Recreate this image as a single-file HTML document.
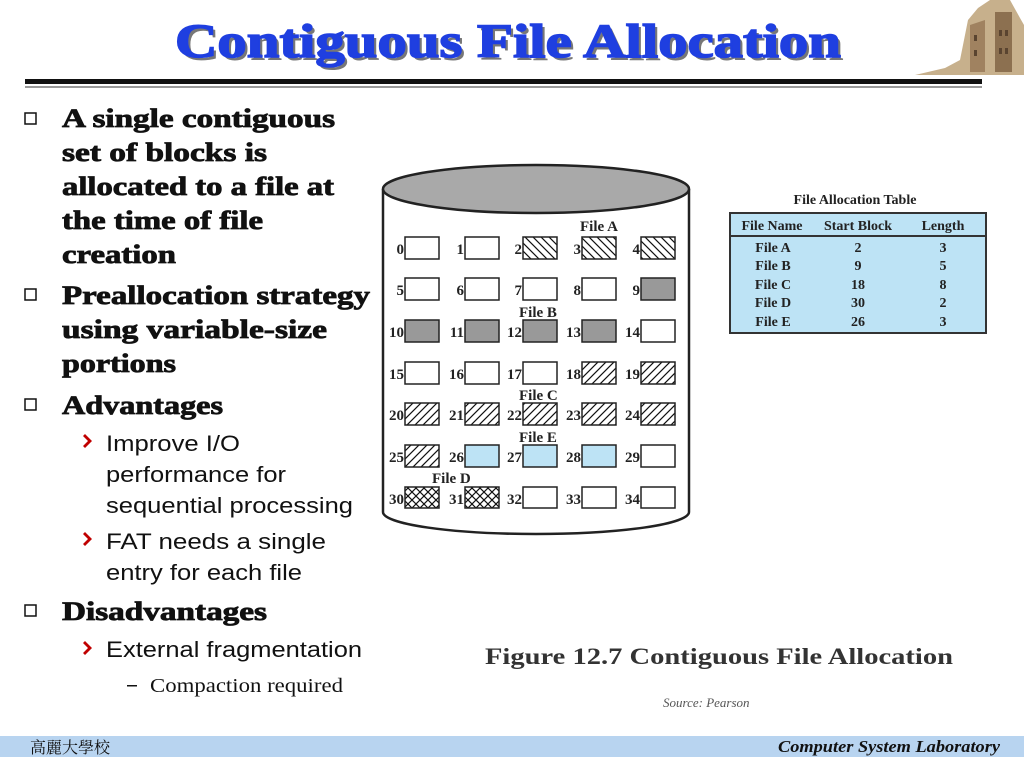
<!DOCTYPE html>
<html><head><meta charset="utf-8"><style>
html,body{margin:0;padding:0;background:#fff;width:1024px;height:768px;overflow:hidden}
svg{display:block}
.b{font-family:"Liberation Serif",serif;font-weight:bold;font-size:26px;fill:#111;stroke:#111;stroke-width:0.8}
.s{font-family:"Liberation Sans",sans-serif;font-size:22px;fill:#111}
.f{font-family:"Liberation Serif",serif;font-weight:bold;font-size:15px;fill:#222}
.t{font-family:"Liberation Serif",serif;font-weight:bold;font-size:14px;fill:#222;text-anchor:middle}
</style></head><body>
<svg width="1024" height="768" viewBox="0 0 1024 768" xmlns="http://www.w3.org/2000/svg">
<defs>
<pattern id="pa" width="8" height="8" patternUnits="userSpaceOnUse"><rect width="8" height="8" fill="#fff"/><path d="M-2,-2 L10,10 M-2,6 L2,10 M6,-2 L10,2" stroke="#111" stroke-width="1.2"/></pattern>
<pattern id="pc" width="8" height="8" patternUnits="userSpaceOnUse"><rect width="8" height="8" fill="#fff"/><path d="M-2,10 L10,-2 M-2,2 L2,-2 M6,10 L10,6" stroke="#111" stroke-width="1.2"/></pattern>
<pattern id="pd" width="8" height="8" patternUnits="userSpaceOnUse"><rect width="8" height="8" fill="#fff"/><path d="M-2,-2 L10,10 M-2,10 L10,-2" stroke="#111" stroke-width="1.2"/></pattern>
</defs>
<!-- title -->
<text x="511" y="60" text-anchor="middle" font-family="Liberation Serif,serif" font-weight="bold" font-size="48" fill="#777" textLength="666" lengthAdjust="spacingAndGlyphs">Contiguous File Allocation</text>
<text x="508" y="57" text-anchor="middle" font-family="Liberation Serif,serif" font-weight="bold" font-size="48" fill="#1f3fe0" stroke="#1f3fe0" stroke-width="1.5" textLength="666" lengthAdjust="spacingAndGlyphs">Contiguous File Allocation</text>
<rect x="25" y="79" width="957" height="5" fill="#111"/>
<rect x="25" y="86" width="957" height="2" fill="#999"/>
<!-- building -->
<path d="M915,75 L945,68 L960,60 L968,20 L978,8 L990,0 L1010,0 L1020,18 L1024,25 L1024,75 Z" fill="#c7b08c"/>
<path d="M970,25 L985,20 L985,72 L970,72 Z" fill="#a08260"/>
<path d="M995,12 L1012,12 L1012,72 L995,72 Z" fill="#8c7050"/>
<g fill="#5a4430"><rect x="974" y="35" width="3" height="6"/><rect x="974" y="50" width="3" height="6"/><rect x="999" y="30" width="3" height="6"/><rect x="1005" y="30" width="3" height="6"/><rect x="999" y="48" width="3" height="6"/><rect x="1005" y="48" width="3" height="6"/></g>
<!-- left text -->
<g fill="#fff" stroke="#111" stroke-width="1.5">
<rect x="25" y="113" width="11" height="11"/><rect x="25" y="289" width="11" height="11"/><rect x="25" y="399" width="11" height="11"/><rect x="25" y="605" width="11" height="11"/>
</g>
<g class="b">
<text x="62" y="127" textLength="273" lengthAdjust="spacingAndGlyphs">A single contiguous</text>
<text x="62" y="161" textLength="205" lengthAdjust="spacingAndGlyphs">set of blocks is</text>
<text x="62" y="195" textLength="272" lengthAdjust="spacingAndGlyphs">allocated to a file at</text>
<text x="62" y="229" textLength="201" lengthAdjust="spacingAndGlyphs">the time of file</text>
<text x="62" y="263" textLength="114" lengthAdjust="spacingAndGlyphs">creation</text>
<text x="62" y="304" textLength="308" lengthAdjust="spacingAndGlyphs">Preallocation strategy</text>
<text x="62" y="338" textLength="265" lengthAdjust="spacingAndGlyphs">using variable-size</text>
<text x="62" y="372" textLength="114" lengthAdjust="spacingAndGlyphs">portions</text>
<text x="62" y="414" textLength="161" lengthAdjust="spacingAndGlyphs">Advantages</text>
<text x="62" y="620" textLength="205" lengthAdjust="spacingAndGlyphs">Disadvantages</text>
</g>
<g fill="#c00000"><path d="M85,434 L92,441 L85,448 L83,446 L88,441 L83,436Z"/><path d="M85,532 L92,539 L85,546 L83,544 L88,539 L83,534Z"/><path d="M85,641 L92,648 L85,655 L83,653 L88,648 L83,643Z"/></g>
<g class="s">
<text x="106" y="451" textLength="134" lengthAdjust="spacingAndGlyphs">Improve I/O</text>
<text x="106" y="482" textLength="180" lengthAdjust="spacingAndGlyphs">performance for</text>
<text x="106" y="513" textLength="247" lengthAdjust="spacingAndGlyphs">sequential processing</text>
<text x="106" y="549" textLength="220" lengthAdjust="spacingAndGlyphs">FAT needs a single</text>
<text x="106" y="580" textLength="196" lengthAdjust="spacingAndGlyphs">entry for each file</text>
<text x="106" y="657" textLength="256" lengthAdjust="spacingAndGlyphs">External fragmentation</text>
</g>
<rect x="127" y="685" width="10" height="1.5" fill="#111"/>
<text x="150" y="692" font-family="Liberation Serif,serif" font-size="20" fill="#111" textLength="193" lengthAdjust="spacingAndGlyphs">Compaction required</text>
<!-- cylinder -->
<path d="M383,189 L383,512 A153,22 0 0 0 689,512 L689,189" fill="#fff" stroke="#222" stroke-width="2.5"/>
<ellipse cx="536" cy="189" rx="153" ry="24" fill="#a9a9a9" stroke="#222" stroke-width="2.5"/>
<g stroke="#222" stroke-width="1.5">
<rect x="405" y="237" width="34" height="22" fill="#fff"/><rect x="465" y="237" width="34" height="22" fill="#fff"/><rect x="523" y="237" width="34" height="22" fill="url(#pa)"/><rect x="582" y="237" width="34" height="22" fill="url(#pa)"/><rect x="641" y="237" width="34" height="22" fill="url(#pa)"/>
<rect x="405" y="278" width="34" height="22" fill="#fff"/><rect x="465" y="278" width="34" height="22" fill="#fff"/><rect x="523" y="278" width="34" height="22" fill="#fff"/><rect x="582" y="278" width="34" height="22" fill="#fff"/><rect x="641" y="278" width="34" height="22" fill="#999"/>
<rect x="405" y="320" width="34" height="22" fill="#999"/><rect x="465" y="320" width="34" height="22" fill="#999"/><rect x="523" y="320" width="34" height="22" fill="#999"/><rect x="582" y="320" width="34" height="22" fill="#999"/><rect x="641" y="320" width="34" height="22" fill="#fff"/>
<rect x="405" y="362" width="34" height="22" fill="#fff"/><rect x="465" y="362" width="34" height="22" fill="#fff"/><rect x="523" y="362" width="34" height="22" fill="#fff"/><rect x="582" y="362" width="34" height="22" fill="url(#pc)"/><rect x="641" y="362" width="34" height="22" fill="url(#pc)"/>
<rect x="405" y="403" width="34" height="22" fill="url(#pc)"/><rect x="465" y="403" width="34" height="22" fill="url(#pc)"/><rect x="523" y="403" width="34" height="22" fill="url(#pc)"/><rect x="582" y="403" width="34" height="22" fill="url(#pc)"/><rect x="641" y="403" width="34" height="22" fill="url(#pc)"/>
<rect x="405" y="445" width="34" height="22" fill="url(#pc)"/><rect x="465" y="445" width="34" height="22" fill="#bde3f5"/><rect x="523" y="445" width="34" height="22" fill="#bde3f5"/><rect x="582" y="445" width="34" height="22" fill="#bde3f5"/><rect x="641" y="445" width="34" height="22" fill="#fff"/>
<rect x="405" y="487" width="34" height="21" fill="url(#pd)"/><rect x="465" y="487" width="34" height="21" fill="url(#pd)"/><rect x="523" y="487" width="34" height="21" fill="#fff"/><rect x="582" y="487" width="34" height="21" fill="#fff"/><rect x="641" y="487" width="34" height="21" fill="#fff"/>
</g>
<g class="f" text-anchor="end">
<text x="404" y="254">0</text><text x="464" y="254">1</text><text x="522" y="254">2</text><text x="581" y="254">3</text><text x="640" y="254">4</text>
<text x="404" y="295">5</text><text x="464" y="295">6</text><text x="522" y="295">7</text><text x="581" y="295">8</text><text x="640" y="295">9</text>
<text x="404" y="337">10</text><text x="464" y="337">11</text><text x="522" y="337">12</text><text x="581" y="337">13</text><text x="640" y="337">14</text>
<text x="404" y="379">15</text><text x="464" y="379">16</text><text x="522" y="379">17</text><text x="581" y="379">18</text><text x="640" y="379">19</text>
<text x="404" y="420">20</text><text x="464" y="420">21</text><text x="522" y="420">22</text><text x="581" y="420">23</text><text x="640" y="420">24</text>
<text x="404" y="462">25</text><text x="464" y="462">26</text><text x="522" y="462">27</text><text x="581" y="462">28</text><text x="640" y="462">29</text>
<text x="404" y="504">30</text><text x="464" y="504">31</text><text x="522" y="504">32</text><text x="581" y="504">33</text><text x="640" y="504">34</text>
</g>
<g class="f">
<text x="580" y="231">File A</text><text x="519" y="317">File B</text><text x="519" y="400">File C</text><text x="519" y="442">File E</text><text x="432" y="483">File D</text>
</g>
<!-- FAT -->
<text class="t" x="855" y="204">File Allocation Table</text>
<rect x="730" y="213" width="256" height="120" fill="#bde3f5" stroke="#333" stroke-width="2"/>
<line x1="730" y1="236" x2="986" y2="236" stroke="#333" stroke-width="2"/>
<g class="t">
<text x="772" y="230">File Name</text><text x="858" y="230">Start Block</text><text x="943" y="230">Length</text>
<text x="773" y="252">File A</text><text x="858" y="252">2</text><text x="943" y="252">3</text>
<text x="773" y="270">File B</text><text x="858" y="270">9</text><text x="943" y="270">5</text>
<text x="773" y="289">File C</text><text x="858" y="289">18</text><text x="943" y="289">8</text>
<text x="773" y="307">File D</text><text x="858" y="307">30</text><text x="943" y="307">2</text>
<text x="773" y="326">File E</text><text x="858" y="326">26</text><text x="943" y="326">3</text>
</g>
<text x="485" y="664" font-family="Liberation Serif,serif" font-weight="bold" font-size="23" fill="#333" textLength="468" lengthAdjust="spacingAndGlyphs">Figure 12.7   Contiguous File Allocation</text>
<text x="663" y="707" font-family="Liberation Serif,serif" font-style="italic" font-size="13" fill="#555">Source: Pearson</text>
<!-- footer -->
<rect x="0" y="736" width="1024" height="21" fill="#b8d4f0"/>
<text x="30" y="753" font-family="Liberation Serif,'Noto Serif CJK TC',serif" font-size="16" fill="#111">高麗大學校</text>
<text x="1000" y="752" text-anchor="end" font-family="Liberation Serif,serif" font-style="italic" font-weight="bold" font-size="17" fill="#111" textLength="222" lengthAdjust="spacingAndGlyphs">Computer System Laboratory</text>
</svg>
</body></html>
